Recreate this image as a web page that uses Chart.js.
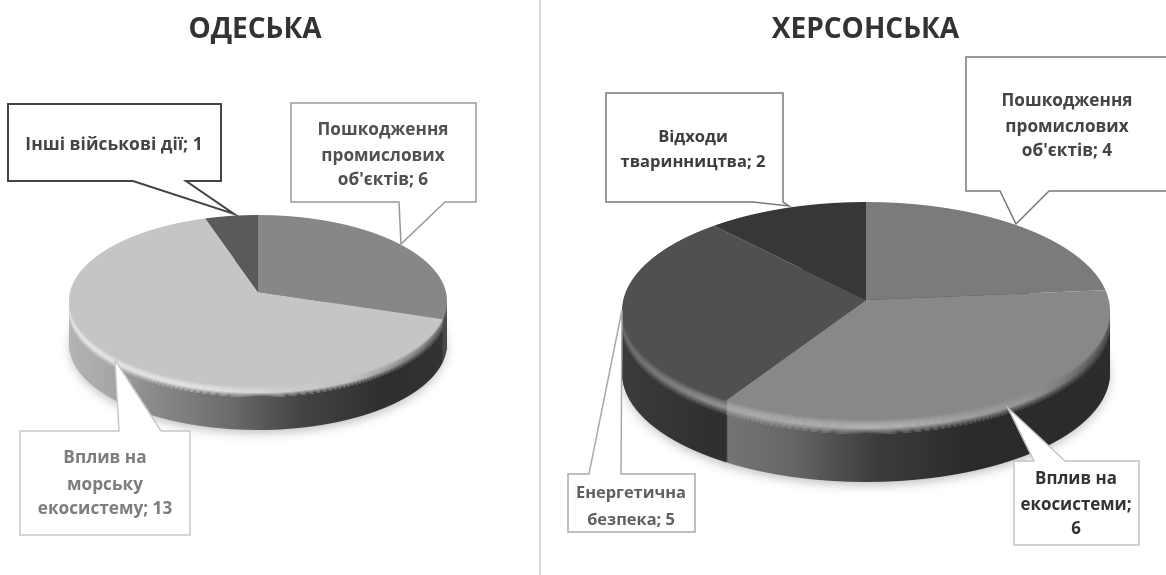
<!DOCTYPE html>
<html lang="uk"><head><meta charset="utf-8">
<script src="https://cdn.jsdelivr.net/npm/chart.js@4/dist/chart.umd.js"></script>
<style>
html,body{margin:0;padding:0;background:#fff;width:1166px;height:575px;overflow:hidden}
canvas{position:absolute;top:0;filter:blur(.6px)}
#divider{position:absolute;left:539px;top:0;width:2px;height:575px;background:#d9d9d9}
</style></head><body>
<div id="divider"></div>
<canvas id="odesa" width="510" height="575" style="left:0"></canvas>
<canvas id="kherson" width="601" height="575" style="left:565px"></canvas>
<script>
const odesaTitle = "ОДЕСЬКА";
const odesaCategories = ["Пошкодження промислових об'єктів", "Вплив на морську екосистему", "Інші військові дії"];
const odesaValues = [6, 13, 1];
const odesaColors = ["#878787", "#c5c5c5", "#5a5a5a"];

const khersonTitle = "ХЕРСОНСЬКА";
const khersonCategories = ["Пошкодження промислових об'єктів", "Вплив на екосистеми", "Енергетична безпека", "Відходи тваринництва"];
const khersonValues = [4, 6, 5, 2];
const khersonColors = ["#7b7b7b", "#888888", "#505050", "#373737"];

const odesaLabels = [["Пошкодження","промислових","об'єктів; 6"],["Вплив на","морську","екосистему; 13"],["Інші військові дії; 1"]];
const khersonLabels = [["Пошкодження","промислових","об'єктів; 4"],["Вплив на","екосистеми;","6"],["Енергетична","безпека; 5"],["Відходи","тваринництва; 2"]];

function addStops(g, stops){ stops.forEach(s => g.addColorStop(s[0], s[1])); return g; }

const pie3d = {
  id: 'pie3d',
  beforeDatasetsDraw(chart, args, o){
    const ctx = chart.ctx, arcs = chart.getDatasetMeta(0).data;
    const R = arcs[0].outerRadius, X = arcs[0].x, Y = arcs[0].y;
    const apex = o.apexY, cx = o.cx - o.left, W = chart.width;
    // perspective of the tilted disc, applied row by row
    const q = o.ryUp / o.ryDown, b = (q - 1) / (q + 1), a = o.ryUp * (1 - b);
    const rx0 = o.rx * Math.sqrt(1 - b * b);
    const midY = apex + (o.ryDown - o.ryUp) / 2;
    const withFill = (arc, fill, fn) => {
      const saved = arc.options;
      arc.options = Object.assign(Object.create(saved), {backgroundColor: fill, borderWidth: 0});
      fn();
      arc.options = saved;
    };
    const rows = (dy, yStart, fillFn) => {
      const y0 = Math.floor(Math.max(yStart, apex - o.ryUp + dy));
      const y1 = Math.ceil(apex + o.ryDown + dy);
      for (let y = y0; y < y1; y++) {
        const w = y + 0.5 - apex - dy;
        const v = w / (a - b * w);
        if (v < -1 || v > 1) continue;
        const den = 1 + b * v;
        ctx.save();
        ctx.beginPath(); ctx.rect(0, y, W, 1); ctx.clip();
        ctx.translate(cx, y + 0.5);
        ctx.scale(rx0 / den / R, a / (den * den) / R);
        ctx.translate(-X, -(Y + v * R));
        arcs.forEach((arc, i) => {
          if (fillFn) withFill(arc, fillFn(i), () => arc.draw(ctx)); else arc.draw(ctx);
        });
        ctx.restore();
      }
    };
    const hGrad = stops => addStops(ctx.createLinearGradient(X - R, 0, X + R, 0), stops);
    const sides = o.side.map(hGrad);
    const hi = hGrad(o.rimLight);
    const faces = chart.data.datasets[0].backgroundColor;
    // soft shadow under the extrusion
    ctx.save();
    ctx.shadowColor = 'rgba(0,0,0,0.3)'; ctx.shadowBlur = 12; ctx.shadowOffsetY = 3;
    ctx.fillStyle = '#333';
    ctx.beginPath();
    ctx.ellipse(cx, midY + o.depth, o.rx - 2, (o.ryUp + o.ryDown) / 2 - 1, 0, 0, Math.PI * 2);
    ctx.fill();
    ctx.restore();
    for (let d = o.depth; d > o.rim; d--) rows(d, midY + d, i => sides[i]);
    // bevelled rim: face colour -> highlight -> side colour
    for (let k = o.rim; k >= 1; k--) {
      const t = k / o.rim;
      rows(k, midY + k, i => faces[i]);
      ctx.save();
      ctx.globalAlpha = Math.sin(Math.PI / 2 * Math.min(t / 0.6, 1));
      rows(k, midY + k, () => hi);
      ctx.restore();
      if (t > 0.6) {
        ctx.save();
        ctx.globalAlpha = (t - 0.6) / 0.4;
        rows(k, midY + k, i => sides[i]);
        ctx.restore();
      }
    }
    rows(0, apex - o.ryUp, null);
    return false;
  },
  afterDraw(chart, args, o){
    const ctx = chart.ctx;
    const labels = chart.data.callouts;
    o.boxes.forEach(b => {
      ctx.save();
      ctx.translate(-o.left, 0);
      const [p0, tip, p1] = b.ptr;
      ctx.beginPath();
      if (b.side === 'bottom') {
        ctx.moveTo(b.x0, b.y0); ctx.lineTo(b.x1, b.y0); ctx.lineTo(b.x1, b.y1);
        ctx.lineTo(p1, b.y1); ctx.lineTo(tip[0], tip[1]); ctx.lineTo(p0, b.y1); ctx.lineTo(b.x0, b.y1);
      } else {
        ctx.moveTo(b.x0, b.y0); ctx.lineTo(p0, b.y0); ctx.lineTo(tip[0], tip[1]); ctx.lineTo(p1, b.y0);
        ctx.lineTo(b.x1, b.y0); ctx.lineTo(b.x1, b.y1); ctx.lineTo(b.x0, b.y1);
      }
      ctx.closePath();
      ctx.fillStyle = '#fff'; ctx.fill();
      ctx.strokeStyle = b.stroke; ctx.lineWidth = b.lw; ctx.stroke();
      ctx.fillStyle = b.color;
      ctx.font = '700 ' + b.size + 'px "Open Sans"';
      ctx.textAlign = 'center'; ctx.textBaseline = 'middle';
      labels[b.label].forEach((line, j) => ctx.fillText(line, b.tx, b.ty[j]));
      ctx.restore();
    });
  }
};

function makePie(id, title, cats, vals, cols, callouts, geom){
  new Chart(document.getElementById(id), {
    type: 'pie',
    data: { labels: cats, callouts, datasets: [{ data: vals, backgroundColor: cols, borderWidth: 0 }] },
    options: {
      responsive: false, animation: false,
      layout: { padding: 0 },
      plugins: {
        legend: { display: false }, tooltip: { enabled: false },
        title: { display: true, text: title, color: '#333', padding: { top: 13, bottom: 10 },
                 font: { family: '"Open Sans"', size: 28, weight: '700' } },
        pie3d: geom
      }
    },
    plugins: [pie3d]
  });
}

makePie('odesa', odesaTitle, odesaCategories, odesaValues, odesaColors, odesaLabels, {
  left: 0, cx: 258, apexY: 292, rx: 189, ryUp: 77, ryDown: 95, depth: 43, rim: 10,
  side: [
    [[0,'#3a3a3a'],[0.9,'#3a3a3a'],[1,'#4a4a4a']],
    [[0,'#b5b5b5'],[0.14,'#a6a6a6'],[0.22,'#8f8f8f'],[0.42,'#6e6e6e'],[0.6,'#444'],[0.8,'#2f2f2f'],[1,'#333']],
    [[0,'#555'],[1,'#555']]
  ],
  rimLight: [[0,'rgba(240,240,240,.9)'],[0.4,'rgba(235,235,235,.8)'],[0.72,'rgba(190,190,190,.55)'],[0.9,'rgba(60,60,60,.6)'],[1,'rgba(30,30,30,.85)']],
  boxes: [
    {label:2,x0:8,y0:104,x1:221,y1:181,side:'bottom',ptr:[133,[234,214],186],stroke:'#444',lw:2,color:'#444',size:17.5,tx:114,ty:[145]},
    {label:0,x0:291,y0:103,x1:476,y1:202,side:'bottom',ptr:[399,[401,244],445],stroke:'#999',lw:1.5,color:'#505050',size:17.2,tx:383,ty:[130,156,180]},
    {label:1,x0:20,y0:431,x1:190,y1:535,side:'top',ptr:[119,[115,360],161],stroke:'#c8c8c8',lw:1.5,color:'#7d7d7d',size:17.2,tx:105,ty:[458,485,509]}
  ]
});

makePie('kherson', khersonTitle, khersonCategories, khersonValues, khersonColors, khersonLabels, {
  left: 565, cx: 866, apexY: 300, rx: 244, ryUp: 98, ryDown: 120, depth: 62, rim: 14,
  side: [
    [[0,'#333'],[1,'#2c2c2c']],
    [[0,'#777'],[0.22,'#777'],[0.36,'#666'],[0.52,'#3c3c3c'],[0.7,'#2a2a2a'],[1,'#2c2c2c']],
    [[0,'#3c3c3c'],[0.2,'#303030'],[1,'#303030']],
    [[0,'#333'],[1,'#333']]
  ],
  rimLight: [[0,'rgba(130,130,130,.6)'],[0.22,'rgba(190,190,190,.65)'],[0.55,'rgba(200,200,200,.7)'],[0.8,'rgba(170,170,170,.4)'],[0.93,'rgba(60,60,60,.6)'],[1,'rgba(30,30,30,.85)']],
  boxes: [
    {label:3,x0:606,y0:93,x1:783,y1:202,side:'bottom',ptr:[753,[789,206],783],stroke:'#777',lw:1.5,color:'#3c3c3c',size:16.5,tx:693,ty:[137,162]},
    {label:0,x0:966,y0:57,x1:1172,y1:191,side:'bottom',ptr:[1000,[1016,224],1049],stroke:'#777',lw:1.5,color:'#444',size:17.2,tx:1067,ty:[101,127,151]},
    {label:2,x0:568,y0:474,x1:695,y1:532,side:'top',ptr:[589,[622,310],621],stroke:'#aaa',lw:1.5,color:'#606060',size:16.4,tx:631,ty:[493,520]},
    {label:1,x0:1014,y0:461,x1:1139,y1:545,side:'top',ptr:[1034,[1008,408],1065],stroke:'#c4c4c4',lw:1.5,color:'#333',size:16.9,tx:1076,ty:[479,505,529]}
  ]
});
</script>
</body></html>
